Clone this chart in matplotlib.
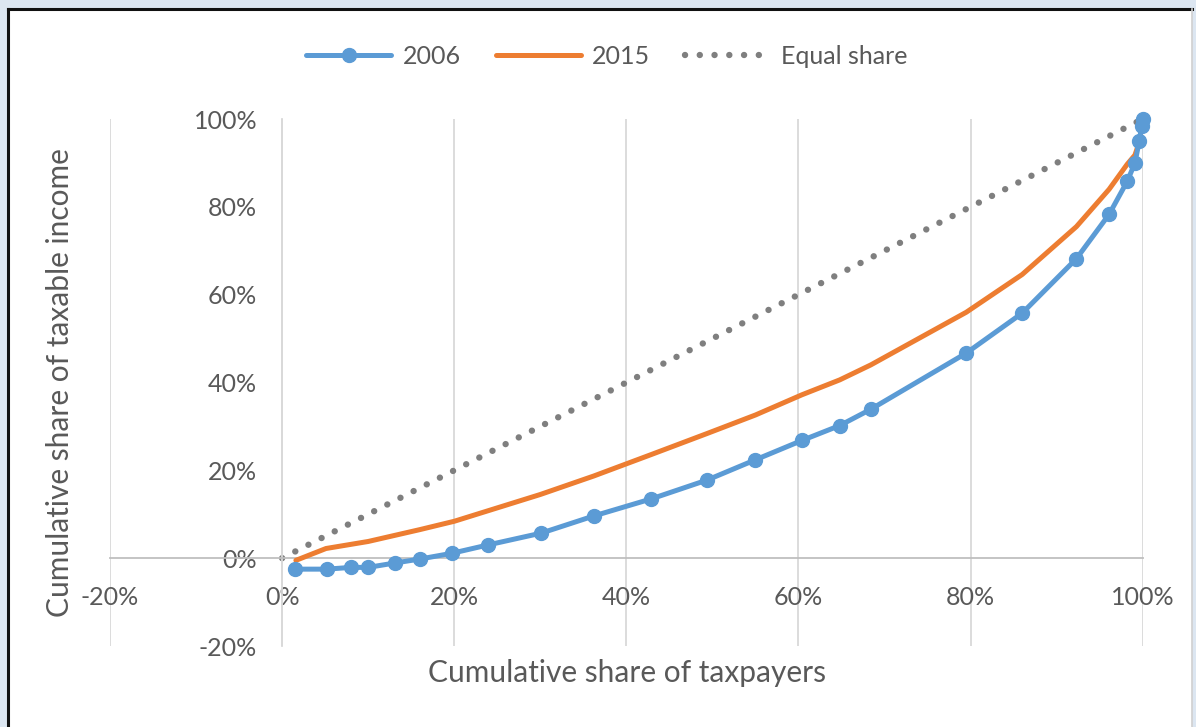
import matplotlib
matplotlib.use('Agg')
import matplotlib.pyplot as plt
from matplotlib.lines import Line2D
from matplotlib.patches import Rectangle
from matplotlib.ticker import FuncFormatter

plt.rcParams['font.family'] = ['Lato', 'DejaVu Sans']
plt.rcParams['axes.unicode_minus'] = False

# cumulative share of taxpayers / taxable income, in percent
x_2006 = [1.5, 5.2, 8.0, 10.0, 13.1, 16.0, 19.7, 23.9, 30.1, 36.2, 42.9, 49.4,
          55.0, 60.4, 64.8, 68.4, 79.5, 86.0, 92.3, 96.1, 98.2, 99.1, 99.6, 99.9, 100.0]
y_2006 = [-2.5, -2.5, -2.1, -2.1, -1.1, -0.2, 1.1, 3.0, 5.7, 9.6, 13.5, 17.8,
          22.4, 26.8, 30.2, 33.9, 46.7, 55.8, 68.2, 78.3, 85.8, 90.0, 95.0, 98.5, 100.0]

x_2015 = [1.6, 5.1, 10.0, 16.0, 20.0, 30.0, 36.2, 42.9, 49.4, 55.0, 60.4, 64.8,
          68.4, 79.5, 86.0, 92.3, 96.1, 98.2, 99.1, 99.6, 100.0]
y_2015 = [-0.5, 2.2, 3.8, 6.5, 8.4, 14.5, 18.7, 23.6, 28.4, 32.6, 37.2, 40.6,
          44.0, 56.0, 64.6, 75.5, 84.0, 89.7, 91.8, 94.7, 100.0]

x_equal = [0, 100]
y_equal = [0, 100]

ticks = [-20, 0, 20, 40, 60, 80, 100]

W, H = 1196, 727
fig = plt.figure(figsize=(W / 100, H / 100), dpi=100)
fig.patch.set_facecolor('#dce6f1')

# white chart area with dark frame on left/top
fig.patches.append(Rectangle((8 / W, 0), (1192 - 8) / W, 1 - 9 / H,
                             transform=fig.transFigure, facecolor='white',
                             edgecolor='none', zorder=-5))
fig.lines.append(Line2D([8 / W, 8 / W], [0, 1 - 9 / H], transform=fig.transFigure,
                        color='#111111', lw=2.2, zorder=-4))
fig.lines.append(Line2D([8 / W, 1192 / W], [1 - 9 / H, 1 - 9 / H], transform=fig.transFigure,
                        color='#111111', lw=2.2, zorder=-4))
fig.lines.append(Line2D([1192 / W, 1192 / W], [0, 1 - 9 / H], transform=fig.transFigure,
                        color='#d0d0d0', lw=1.2, zorder=-4))

ax = fig.add_axes([110 / W, 1 - 646 / H, 1032.7 / W, 527 / H])
ax.set_facecolor('none')

ax.plot(x_2006, y_2006, color='#5b9bd5', lw=3.6, marker='o', markersize=10,
        label='2006', clip_on=False, zorder=4, solid_capstyle='round')
ax.plot(x_2015, y_2015, color='#ed7d31', lw=3.6, label='2015', clip_on=False,
        zorder=3, solid_capstyle='round')
ax.plot(x_equal, y_equal, color='#7f7f7f', lw=4.6, linestyle=(0, (0.01, 2.3)),
        dash_capstyle='round', label='Equal share', zorder=2)

ax.set_xlim(-20, 100)
ax.set_ylim(-20, 100)
ax.set_xticks(ticks)
ax.set_yticks(ticks)
fmt = FuncFormatter(lambda v, p: f'{v:.0f}%')
ax.xaxis.set_major_formatter(fmt)
ax.yaxis.set_major_formatter(fmt)

ax.grid(axis='x', color='#d9d9d9', lw=1.3)
ax.set_axisbelow(True)
for s in ['top', 'right']:
    ax.spines[s].set_visible(False)
ax.spines['left'].set_position(('data', 0))
ax.spines['bottom'].set_position(('data', 0))
ax.spines['left'].set_color('#d9d9d9')
ax.spines['bottom'].set_color('#bfbfbf')
ax.spines['left'].set_linewidth(1.3)
ax.spines['bottom'].set_linewidth(1.3)

ax.tick_params(axis='x', length=0, labelsize=18, colors='#595959', pad=20)
ax.tick_params(axis='y', length=0, labelsize=18, colors='#595959', pad=18)

fig.text(627 / W, 1 - 673 / H, 'Cumulative share of taxpayers', ha='center',
         va='center', fontsize=21.5, color='#595959')
fig.text(60 / W, 1 - 383 / H, 'Cumulative share of taxable income', ha='center',
         va='center', rotation=90, fontsize=21.5, color='#595959')

fig.legend(loc='center', bbox_to_anchor=(607 / W, 1 - 56 / H), ncol=3,
           frameon=False, fontsize=18, labelcolor='#595959', handlelength=3.4,
           handletextpad=0.45, columnspacing=1.4)

fig.savefig('out.png', dpi=100, facecolor=fig.get_facecolor())
